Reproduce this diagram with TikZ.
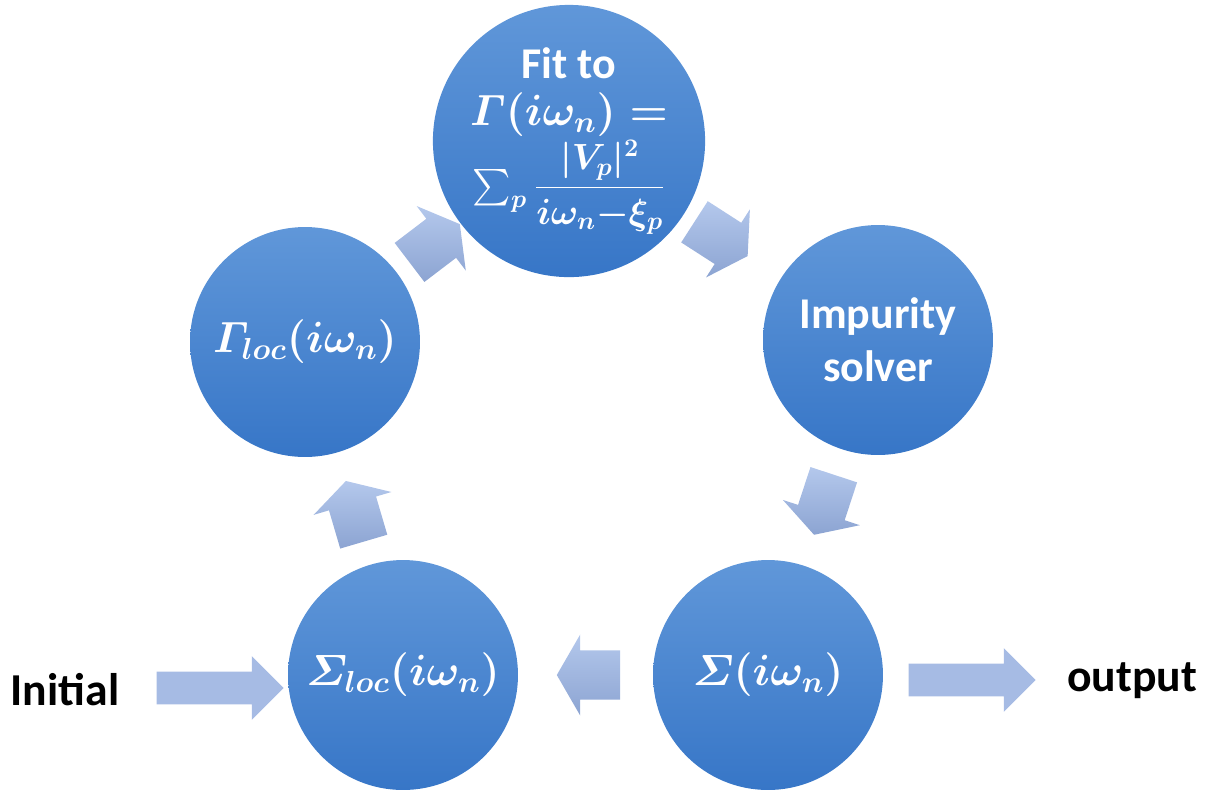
\documentclass[tikz,border=0pt]{standalone}
\usepackage{amsmath}
\usepackage{fontspec}
\setmainfont{Carlito}
\usetikzlibrary{shapes.arrows,calc}
\definecolor{ballTop}{RGB}{96,151,217}
\definecolor{ballBot}{RGB}{55,118,199}
\definecolor{arrTop}{RGB}{180,200,236}
\definecolor{arrBot}{RGB}{140,164,210}
\definecolor{arrFlat}{RGB}{166,187,228}
\tikzset{
  ball/.style={circle, minimum size=4.6cm, inner sep=0pt, top color=ballTop, bottom color=ballBot,
    text=white, align=center, font=\fontsize{25}{30}\selectfont\bfseries\boldmath},
  linkarrow/.style={single arrow, shape border uses incircle, inner sep=0pt,
    text width=0pt, text height=0.34cm, text depth=0.34cm,
    single arrow head extend=0.32cm, single arrow tip angle=120, top color=arrTop, bottom color=arrBot},
  bigarrow/.style={single arrow, minimum height=2.54cm, inner sep=0pt, text width=0pt,
    text height=0.32cm, text depth=0.32cm,
    single arrow head extend=0.31cm, fill=arrFlat},
  sidetext/.style={font=\fontsize{26}{30}\selectfont\bfseries}
}
\begin{document}
\begin{tikzpicture}[x=0.02cm, y=-0.02cm]
  \useasboundingbox (0,0) rectangle (1213,796);
  % 1. the five circles of the loop
  \node[ball] (fit) at (569,141) {Fit to\\[-3pt] $\varGamma(i\omega_n)=$\\[1pt]
    {\fontsize{20}{24}\selectfont$\sum_p\dfrac{|V_p|^2}{i\omega_n{-}\xi_p}$}};
  \node[ball] (imp) at (878,340) {Impurity\\solver};
  \node[ball] (sig) at (768,675) {$\varSigma(i\omega_n)$};
  \node[ball] (sigloc) at (403,675) {$\varSigma_{loc}(i\omega_n)$};
  \node[ball] (gloc) at (305,342) {$\varGamma_{loc}(i\omega_n)$};
  % 2. block arrows between neighbours (nudged back so the arrow sits mid-gap)
  \foreach \a/\b in {gloc/fit, fit/imp, imp/sig, sig/sigloc, sigloc/gloc} {
    \path let \p1=($(\b)-(\a)$), \n1={atan2(\y1,\x1)} in
      node[linkarrow, shape border rotate=\n1] (\a-\b) at ($(\a)!0.5!(\b)!-0.2cm!(\b)$) {};
  }
  % 3. input and output
  \node[sidetext] (init) at (65,690) {Initial};
  \node[sidetext] (out) at (1132,681) {output};
  \node[bigarrow] (inarr) at (212,688) {};
  \node[bigarrow] (outarr) at (964,680) {};
\end{tikzpicture}
\end{document}
